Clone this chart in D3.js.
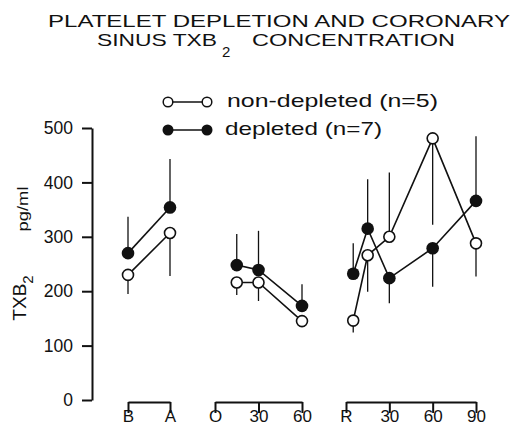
<!DOCTYPE html>
<html>
<head>
<meta charset="utf-8">
<script src="https://cdn.jsdelivr.net/npm/d3@7"></script>
<style>
  body { margin: 0; background: #fff; }
  svg { display: block; font-family: "Liberation Sans", Arial, sans-serif; }
</style>
</head>
<body>
<svg id="chart" width="516" height="431"></svg>
<script>
// y axis
const yTicks = [0, 100, 200, 300, 400, 500]

// x segments: baseline (B/A), occlusion (O..60), reperfusion (R..90)
const preLabels = ['B', 'A']
const occTicks = [0, 30, 60]
const occTickLabels = ['O', '30', '60']
const repTicks = [0, 30, 60, 90]
const repTickLabels = ['R', '30', '60', '90']
const occTimes = [15, 30, 60]
const repTimes = [5, 15, 30, 60, 90]

// non-depleted (n=5), mean and end of error bar
const nonPre = [230, 307]
const nonPreErr = [195, 228]
const nonOcc = [216, 216, 145]
const nonOccErr = [193, 182, 140]
const nonRep = [146, 266, 300, 481, 288]
const nonRepErr = [124, 199, 418, 322, 227]

// depleted (n=7)
const depPre = [270, 354]
const depPreErr = [337, 443]
const depOcc = [248, 239, 173]
const depOccErr = [305, 311, 213]
const depRep = [232, 315, 224, 279, 366]
const depRepErr = [288, 406, 178, 208, 485]

const ink = '#111'
const svg = d3.select('#chart')

const y = d3.scaleLinear().domain([0, 500]).range([400, 128])
const xPre = d3.scalePoint().domain(preLabels).range([128, 170])
const xOcc = d3.scaleLinear().domain([0, 60]).range([215, 302])
const xRep = d3.scaleLinear().domain([0, 90]).range([346, 476])

// title
const title = svg.append('g').attr('fill', ink).attr('font-size', 17)
title.append('text').attr('x', 48).attr('y', 27)
    .attr('textLength', 462).attr('lengthAdjust', 'spacingAndGlyphs')
    .text('PLATELET DEPLETION AND CORONARY')
title.append('text').attr('x', 97).attr('y', 46)
    .attr('textLength', 120).attr('lengthAdjust', 'spacingAndGlyphs')
    .text('SINUS TXB')
title.append('text').attr('x', 222).attr('y', 57).attr('font-size', 15)
    .text('2')
title.append('text').attr('x', 252).attr('y', 46)
    .attr('textLength', 203).attr('lengthAdjust', 'spacingAndGlyphs')
    .text('CONCENTRATION')

// y axis
const yAxis = svg.append('g')
    .attr('transform', 'translate(92,0)')
    .call(d3.axisLeft(y).tickValues(yTicks).tickSize(10).tickSizeOuter(0).tickPadding(9))
yAxis.attr('font-family', null).attr('font-size', null)
yAxis.selectAll('path, line').attr('stroke', ink).attr('stroke-width', 2)
yAxis.selectAll('text').attr('fill', ink).attr('font-size', 17.5)

// y titles
svg.append('text')
    .attr('transform', 'translate(26,298) rotate(-90)')
    .attr('text-anchor', 'middle')
    .attr('fill', ink)
    .attr('font-size', 19)
    .call(t => {
      t.append('tspan').text('TXB')
      t.append('tspan').attr('dy', 7).attr('font-size', 15).text('2')
    })
svg.append('text')
    .attr('transform', 'translate(28,209) rotate(-90)')
    .attr('text-anchor', 'middle')
    .attr('fill', ink)
    .attr('font-size', 14.5)
    .attr('textLength', 45).attr('lengthAdjust', 'spacingAndGlyphs')
    .text('pg/ml')

// bracket x axes
function bracket (scale, values, labels) {
  const ax = d3.axisBottom(scale).tickSize(11).tickSizeOuter(0).tickPadding(-3)
  if (values) ax.tickValues(values).tickFormat((d, i) => labels[i])
  const g = svg.append('g').attr('transform', 'translate(0,402)').call(ax)
  g.attr('font-family', null).attr('font-size', null)
  g.selectAll('path, line').attr('stroke', ink).attr('stroke-width', 2)
  g.selectAll('text').attr('fill', ink).attr('font-size', 17)
}
bracket(xPre, null, null)
bracket(xOcc, occTicks, occTickLabels)
bracket(xRep, repTicks, repTickLabels)

// segments
const segments = [
  {x: xPre, keys: preLabels, non: nonPre, nonErr: nonPreErr, dep: depPre, depErr: depPreErr},
  {x: xOcc, keys: occTimes, non: nonOcc, nonErr: nonOccErr, dep: depOcc, depErr: depOccErr},
  {x: xRep, keys: repTimes, non: nonRep, nonErr: nonRepErr, dep: depRep, depErr: depRepErr}
]

const line = d3.line().x(d => d.px).y(d => y(d.v))
const marks = svg.append('g')

segments.forEach(seg => {
  const series = [
    {filled: false, pts: seg.keys.map((k, i) => ({px: seg.x(k), v: seg.non[i], e: seg.nonErr[i]}))},
    {filled: true, pts: seg.keys.map((k, i) => ({px: seg.x(k), v: seg.dep[i], e: seg.depErr[i]}))}
  ]
  series.forEach(s => {
    marks.append('path')
        .datum(s.pts)
        .attr('d', line)
        .attr('fill', 'none')
        .attr('stroke', ink)
        .attr('stroke-width', 1.6)
    marks.selectAll(null)
        .data(s.pts)
        .enter()
        .append('line')
        .attr('x1', d => d.px).attr('x2', d => d.px)
        .attr('y1', d => y(d.v)).attr('y2', d => y(d.e))
        .attr('stroke', ink)
        .attr('stroke-width', 1.3)
  })
  series.forEach(s => {
    marks.selectAll(null)
        .data(s.pts)
        .enter()
        .append('circle')
        .attr('cx', d => d.px)
        .attr('cy', d => y(d.v))
        .attr('r', s.filled ? 6.3 : 5.5)
        .attr('fill', s.filled ? ink : '#fff')
        .attr('stroke', ink)
        .attr('stroke-width', s.filled ? 0 : 1.6)
  })
})

// legend
const legendItems = [
  {label: 'non-depleted (n=5)', filled: false, len: 211, x: 227, y: 102},
  {label: 'depleted (n=7)', filled: true, len: 157, x: 225, y: 130}
]
const legend = svg.append('g')
legendItems.forEach(it => {
  legend.append('line')
      .attr('x1', 168).attr('x2', 207)
      .attr('y1', it.y).attr('y2', it.y)
      .attr('stroke', ink).attr('stroke-width', 1.6)
  ;[168, 207].forEach(cx => {
    legend.append('circle')
        .attr('cx', cx).attr('cy', it.y)
        .attr('r', it.filled ? 5.5 : 4.8)
        .attr('fill', it.filled ? ink : '#fff')
        .attr('stroke', ink)
        .attr('stroke-width', it.filled ? 0 : 1.5)
  })
  legend.append('text')
      .attr('x', it.x).attr('y', it.y + 5)
      .attr('fill', ink)
      .attr('font-size', 19)
      .attr('textLength', it.len).attr('lengthAdjust', 'spacingAndGlyphs')
      .text(it.label)
})
</script>
</body>
</html>
